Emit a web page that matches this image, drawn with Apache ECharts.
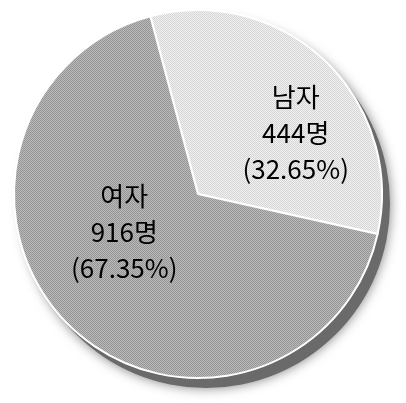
<!DOCTYPE html>
<html>
<head>
<meta charset="utf-8">
<script src="https://cdn.jsdelivr.net/npm/echarts@6/dist/echarts.min.js"></script>
<style>
    html, body { margin: 0; padding: 0; background: #fff; }
    #main { width: 406px; height: 403px; }
</style>
</head>
<body>
<div id="main"></div>
<script>
var names = ['남자', '여자'];
var counts = [444, 916];
var percents = ['32.65%', '67.35%'];

// 망점 느낌 패턴
function makePattern(base, dot) {
    var c = document.createElement('canvas');
    c.width = 2;
    c.height = 2;
    var ctx = c.getContext('2d');
    ctx.fillStyle = base;
    ctx.fillRect(0, 0, 2, 2);
    ctx.fillStyle = dot;
    ctx.fillRect(0, 0, 1, 1);
    ctx.fillRect(1, 1, 1, 1);
    return c;
}

var fills = [
    { image: makePattern('#f0f0f0', '#d6d6d6'), repeat: 'repeat' },
    { image: makePattern('#bababa', '#959595'), repeat: 'repeat' }
];
var shifts = [[32, 8], [-8, -30]];

var pieData = [];
for (var i = 0; i < names.length; i++) {
    pieData.push({
        name: names[i],
        value: counts[i],
        pct: percents[i],
        itemStyle: { color: fills[i] }
    });
}
var total = counts[0] + counts[1];

var option = {
    animation: false,
    series: [
        {
            // 그림자
            type: 'pie',
            silent: true,
            z: 1,
            center: [206, 204],
            radius: 184,
            data: [{ value: total, name: '' }],
            itemStyle: {
                color: '#6a6a6a',
                shadowBlur: 12,
                shadowColor: 'rgba(0,0,0,0.5)'
            },
            label: { show: false },
            labelLine: { show: false }
        },
        {
            type: 'pie',
            z: 2,
            center: [198, 194],
            radius: 184,
            startAngle: 105,
            clockwise: true,
            data: pieData,
            itemStyle: {
                borderColor: '#fff',
                borderWidth: 2
            },
            label: {
                show: true,
                position: 'inside',
                color: '#000',
                fontSize: 26,
                lineHeight: 36,
                fontFamily: 'Noto Sans CJK KR',
                formatter: function (p) {
                    return p.name + '\n' + p.value + '명\n(' + p.data.pct + ')';
                }
            },
            labelLine: { show: false },
            labelLayout: function (p) {
                return { dx: shifts[p.dataIndex][0], dy: shifts[p.dataIndex][1] };
            }
        }
    ]
};

var chart = echarts.init(document.getElementById('main'));
chart.setOption(option);
</script>
</body>
</html>
